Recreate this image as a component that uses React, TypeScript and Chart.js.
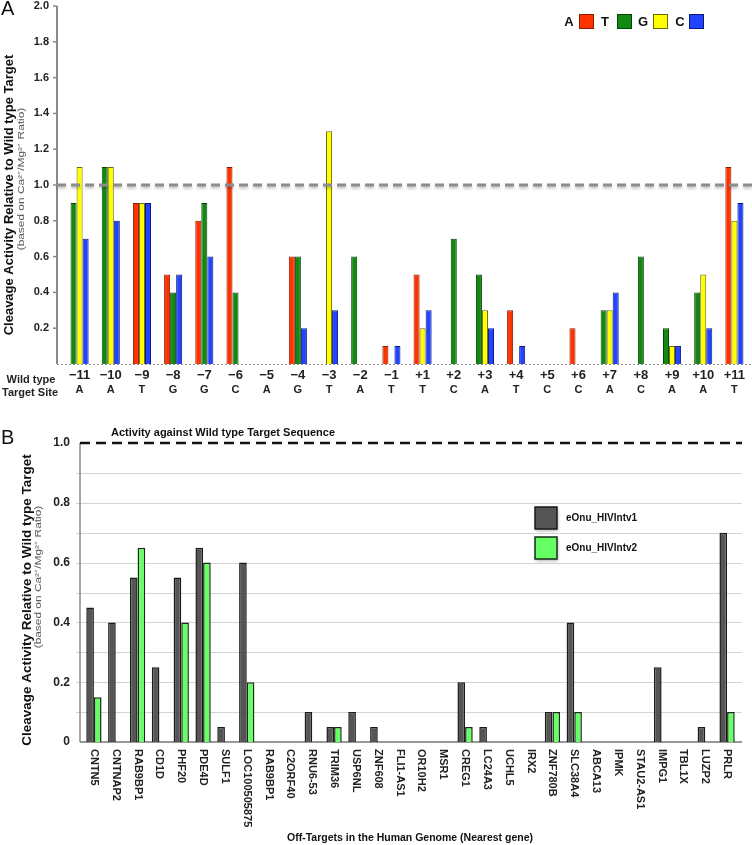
import React, { useEffect, useRef } from "react";
import { Chart, registerables } from "chart.js";
Chart.register(...registerables);

const FONT = '"Liberation Sans", Arial, Helvetica, sans-serif';

// ---------- Panel A data ----------
const positions = ["−11","−10","−9","−8","−7","−6","−5","−4","−3","−2","−1","+1","+2","+3","+4","+5","+6","+7","+8","+9","+10","+11"];
const wildTypeBases = ["A","A","T","G","G","C","A","G","T","A","T","T","C","A","T","C","C","A","C","A","A","T"];
const seriesA = [null,null,0.9,0.5,0.8,1.1,null,0.6,0,null,0.1,0.5,0,null,0.3,0,0.2,null,0,null,null,1.1];
const seriesT = [0.9,1.1,null,0.4,0.9,0.4,0,0.6,null,0.6,null,null,0.7,0.5,null,0,0,0.3,0.6,0.2,0.4,null];
const seriesG = [1.1,1.1,0.9,null,null,0,0,null,1.3,0,0,0.2,0,0.3,0,0,0,0.3,0,0.1,0.5,0.8];
const seriesC = [0.7,0.8,0.9,0.5,0.6,null,0,0.2,0.3,0,0.1,0.3,null,0.2,0.1,null,null,0.4,null,0.1,0.2,0.9];
const yTicksA = [0.2,0.4,0.6,0.8,1.0,1.2,1.4,1.6,1.8,2.0];

// ---------- Panel B data ----------
const genes = ["CNTN5","CNTNAP2","RAB9BP1","CD1D","PHF20","PDE4D","SULF1","LOC100505875","RAB9BP1","C2ORF40","RNU6-53","TRIM36","USP6NL","ZNF608","FLI1-AS1","OR10H2","MSR1","CREG1","LC24A3","UCHL5","IRX2","ZNF780B","SLC38A4","ABCA13","IPMK","STAU2-AS1","IMPG1","TBL1X","LUZP2","PRLR"];
const intv1 = [0.45,0.4,0.55,0.25,0.55,0.65,0.05,0.6,0,0,0.1,0.05,0.1,0.05,0,0,0,0.2,0.05,0,0,0.1,0.4,0,0,0,0.25,0,0.05,0.7];
const intv2 = [0.15,0,0.65,0,0.4,0.6,0,0.2,0,0,0,0.05,0,0,0,0,0,0.05,0,0,0,0.1,0.1,0,0,0,0,0,0,0.1];
const yTicksB = [0,0.2,0.4,0.6,0.8,1.0];
const yGridB = [0.1,0.2,0.3,0.4,0.5,0.6,0.7,0.8,0.9];

const COLORS_A = {
  A: { fill: "#ff3300", border: "#8a1a00" },
  T: { fill: "#128a12", border: "#0a400a" },
  G: { fill: "#ffff00", border: "#6b6b00" },
  C: { fill: "#2244ff", border: "#0a1a7a" },
};

function drawYTitle(ctx: any, cx: number, cy: number, size: number, sx: number, sy: number) {
  ctx.save();
  ctx.textAlign = "center";
  ctx.textBaseline = "middle";
  ctx.translate(cx, cy);
  ctx.rotate(-Math.PI / 2);
  ctx.font = `bold ${size}px ${FONT}`;
  ctx.fillStyle = "#111";
  ctx.fillText("Cleavage Activity Relative to Wild type Target", 0, 0);
  ctx.restore();
  ctx.save();
  ctx.textAlign = "center";
  ctx.textBaseline = "middle";
  ctx.translate(sx, sy);
  ctx.rotate(-Math.PI / 2);
  ctx.scale(1.4, 1);
  ctx.font = `8.5px ${FONT}`;
  ctx.fillStyle = "#555";
  ctx.fillText("(based on Ca²⁺/Mg²⁺ Ratio)", 0, 0);
  ctx.restore();
}

const panelAPlugin = {
  id: "panelA",
  beforeDatasetsDraw(chart: any) {
    const ctx = chart.ctx;
    const y = chart.scales.y;
    const x = chart.scales.x;
    const bottom = y.getPixelForValue(0);
    const top = y.getPixelForValue(2.0);
    const axisX = 57;
    ctx.save();
    ctx.fillStyle = "#111";
    ctx.font = `20px ${FONT}`;
    ctx.textAlign = "left";
    ctx.textBaseline = "top";
    ctx.fillText("A", 1, -1);
    // y axis line
    ctx.strokeStyle = "#8a8a8a";
    ctx.lineWidth = 2;
    ctx.beginPath();
    ctx.moveTo(axisX, top);
    ctx.lineTo(axisX, bottom);
    ctx.stroke();
    // ticks + labels
    ctx.lineWidth = 1.5;
    ctx.font = `bold 11px ${FONT}`;
    ctx.fillStyle = "#222";
    ctx.textAlign = "right";
    ctx.textBaseline = "middle";
    for (const t of yTicksA) {
      const py = y.getPixelForValue(t);
      ctx.beginPath();
      ctx.moveTo(axisX - 4, py);
      ctx.lineTo(axisX, py);
      ctx.stroke();
      ctx.fillText(t.toFixed(1), 49, py);
    }
    // dotted baseline
    ctx.strokeStyle = "#9a9a9a";
    ctx.lineWidth = 1;
    ctx.setLineDash([2, 2]);
    ctx.beginPath();
    ctx.moveTo(axisX, bottom + 0.5);
    ctx.lineTo(752, bottom + 0.5);
    ctx.stroke();
    ctx.setLineDash([]);
    // x labels
    ctx.fillStyle = "#222";
    ctx.textAlign = "center";
    for (let i = 0; i < positions.length; i++) {
      const px = x.getPixelForValue(i);
      ctx.font = `bold 13px ${FONT}`;
      ctx.fillText(positions[i], px, 375);
      ctx.font = `bold 11px ${FONT}`;
      ctx.fillText(wildTypeBases[i], px, 390);
    }
    ctx.font = `bold 11px ${FONT}`;
    ctx.fillText("Wild type", 31, 380);
    ctx.fillText("Target Site", 30, 393);
    drawYTitle(ctx, 9, 195, 13, 22, 179);
    ctx.restore();
  },
  afterDatasetsDraw(chart: any) {
    const ctx = chart.ctx;
    const y = chart.scales.y;
    const py = y.getPixelForValue(1.0);
    ctx.save();
    ctx.shadowColor = "rgba(0,0,0,0.25)";
    ctx.shadowBlur = 3;
    ctx.shadowOffsetY = 2;
    ctx.strokeStyle = "#8c8c8c";
    ctx.lineWidth = 3;
    ctx.setLineDash([9, 5]);
    ctx.beginPath();
    ctx.moveTo(57, py);
    ctx.lineTo(752, py);
    ctx.stroke();
    ctx.restore();
    // legend
    ctx.save();
    const items: [string, keyof typeof COLORS_A, number, number][] = [
      ["A", "A", 569, 579],
      ["T", "T", 605, 617],
      ["G", "G", 643, 653],
      ["C", "C", 680, 689],
    ];
    ctx.font = `bold 13px ${FONT}`;
    ctx.textAlign = "center";
    ctx.textBaseline = "middle";
    for (const [label, key, tx, bx] of items) {
      ctx.fillStyle = "#111";
      ctx.fillText(label, tx, 22);
      ctx.fillStyle = COLORS_A[key].fill;
      ctx.fillRect(bx, 14, 15, 15);
      ctx.strokeStyle = COLORS_A[key].border;
      ctx.lineWidth = 1;
      ctx.strokeRect(bx + 0.5, 14.5, 14, 14);
    }
    ctx.restore();
  },
};

const panelBPlugin = {
  id: "panelB",
  beforeDatasetsDraw(chart: any) {
    const ctx = chart.ctx;
    const y = chart.scales.y;
    const x = chart.scales.x;
    const bottom = y.getPixelForValue(0);
    const top = y.getPixelForValue(1.0);
    const axisX = 80;
    const rightX = 742;
    ctx.save();
    ctx.fillStyle = "#111";
    ctx.font = `20px ${FONT}`;
    ctx.textAlign = "left";
    ctx.textBaseline = "top";
    ctx.fillText("B", 1, 28);
    // grid
    ctx.strokeStyle = "#d4d4d4";
    ctx.lineWidth = 1.2;
    for (const g of yGridB) {
      const py = Math.round(y.getPixelForValue(g)) + 0.5;
      ctx.beginPath();
      ctx.moveTo(axisX - 4, py);
      ctx.lineTo(rightX, py);
      ctx.stroke();
    }
    // axes
    ctx.strokeStyle = "#8a8a8a";
    ctx.lineWidth = 1.5;
    ctx.beginPath();
    ctx.moveTo(axisX, top);
    ctx.lineTo(axisX, bottom);
    ctx.stroke();
    ctx.strokeStyle = "#777";
    ctx.beginPath();
    ctx.moveTo(axisX, bottom);
    ctx.lineTo(rightX, bottom);
    ctx.stroke();
    // y labels
    ctx.fillStyle = "#222";
    ctx.font = `bold 12px ${FONT}`;
    ctx.textAlign = "right";
    ctx.textBaseline = "middle";
    for (const t of yTicksB) {
      ctx.fillText(t === 0 ? "0" : t.toFixed(1), 70, y.getPixelForValue(t));
    }
    // x labels rotated clockwise
    ctx.font = `bold 11px ${FONT}`;
    ctx.textAlign = "left";
    ctx.fillStyle = "#222";
    for (let i = 0; i < genes.length; i++) {
      const px = x.getPixelForValue(i);
      ctx.save();
      ctx.translate(px, bottom + 7);
      ctx.rotate(Math.PI / 2);
      ctx.fillText(genes[i], 0, 0);
      ctx.restore();
    }
    // x title
    ctx.textAlign = "center";
    ctx.font = `bold 10.5px ${FONT}`;
    ctx.fillStyle = "#111";
    ctx.fillText("Off-Targets in the Human Genome (Nearest gene)", 410, 438);
    // chart title
    ctx.font = `bold 11px ${FONT}`;
    ctx.fillText("Activity against Wild type Target Sequence", 223, 33);
    drawYTitle(ctx, 27, 200, 13.5, 39, 177);
    ctx.restore();
  },
  afterDatasetsDraw(chart: any) {
    const ctx = chart.ctx;
    const y = chart.scales.y;
    const py = y.getPixelForValue(1.0);
    ctx.save();
    ctx.strokeStyle = "#111";
    ctx.lineWidth = 2.5;
    ctx.setLineDash([10, 6]);
    ctx.beginPath();
    ctx.moveTo(80, py);
    ctx.lineTo(742, py);
    ctx.stroke();
    ctx.setLineDash([]);
    // legend
    const items = [
      ["eOnu_HIVIntv1", "#555555", "#1a1a1a", 107],
      ["eOnu_HIVIntv2", "#66ff66", "#1a2a1a", 137],
    ] as const;
    for (const [label, fill, border, by] of items) {
      ctx.save();
      ctx.shadowColor = "rgba(0,0,0,0.3)";
      ctx.shadowBlur = 3;
      ctx.shadowOffsetX = 1;
      ctx.shadowOffsetY = 2;
      ctx.fillStyle = fill;
      ctx.fillRect(535, by, 22, 22);
      ctx.restore();
      ctx.strokeStyle = border;
      ctx.lineWidth = 1.5;
      ctx.strokeRect(535, by, 22, 22);
      ctx.fillStyle = "#111";
      ctx.font = `bold 10px ${FONT}`;
      ctx.textAlign = "left";
      ctx.textBaseline = "middle";
      ctx.fillText(label, 566, by + 11);
    }
    ctx.restore();
  },
};

function PanelA() {
  const ref = useRef<HTMLCanvasElement>(null);
  useEffect(() => {
    if (!ref.current) return;
    const mk = (label: string, data: (number | null)[], key: keyof typeof COLORS_A) => ({
      label,
      data,
      backgroundColor: COLORS_A[key].fill,
      borderColor: COLORS_A[key].border,
      borderWidth: 1,
      categoryPercentage: 0.58,
      barPercentage: 1.0,
      skipNull: true,
    });
    const chart = new Chart(ref.current, {
      type: "bar",
      data: {
        labels: positions,
        datasets: [mk("A", seriesA, "A"), mk("T", seriesT, "T"), mk("G", seriesG, "G"), mk("C", seriesC, "C")],
      },
      options: {
        responsive: false,
        animation: false,
        layout: { padding: { left: 64, right: 2, top: 6, bottom: 36 } },
        plugins: { legend: { display: false }, tooltip: { enabled: false }, title: { display: false } },
        scales: {
          x: { display: false },
          y: { display: false, min: 0, max: 2.0 },
        },
      },
      plugins: [panelAPlugin],
    } as any);
    return () => chart.destroy();
  }, []);
  return <canvas ref={ref} width={752} height={400} style={{ display: "block" }} />;
}

function PanelB() {
  const ref = useRef<HTMLCanvasElement>(null);
  useEffect(() => {
    if (!ref.current) return;
    const chart = new Chart(ref.current, {
      type: "bar",
      data: {
        labels: genes,
        datasets: [
          { label: "eOnu_HIVIntv1", data: intv1, backgroundColor: "#555555", borderColor: "#1a1a1a", borderWidth: 1.5, categoryPercentage: 0.7, barPercentage: 1.0 },
          { label: "eOnu_HIVIntv2", data: intv2, backgroundColor: "#66ff66", borderColor: "#1a2a1a", borderWidth: 1.5, categoryPercentage: 0.7, barPercentage: 1.0 },
        ],
      },
      options: {
        responsive: false,
        animation: false,
        layout: { padding: { left: 83, right: 14, top: 43, bottom: 103 } },
        plugins: { legend: { display: false }, tooltip: { enabled: false }, title: { display: false } },
        scales: {
          x: { display: false },
          y: { display: false, min: 0, max: 1.0 },
        },
      },
      plugins: [panelBPlugin],
    } as any);
    return () => chart.destroy();
  }, []);
  return <canvas ref={ref} width={752} height={445} style={{ display: "block" }} />;
}

export default function App() {
  return (
    <div style={{ position: "fixed", left: 0, top: 0, width: 752, height: 845, background: "#fff" }}>
      <PanelA />
      <PanelB />
    </div>
  );
}
